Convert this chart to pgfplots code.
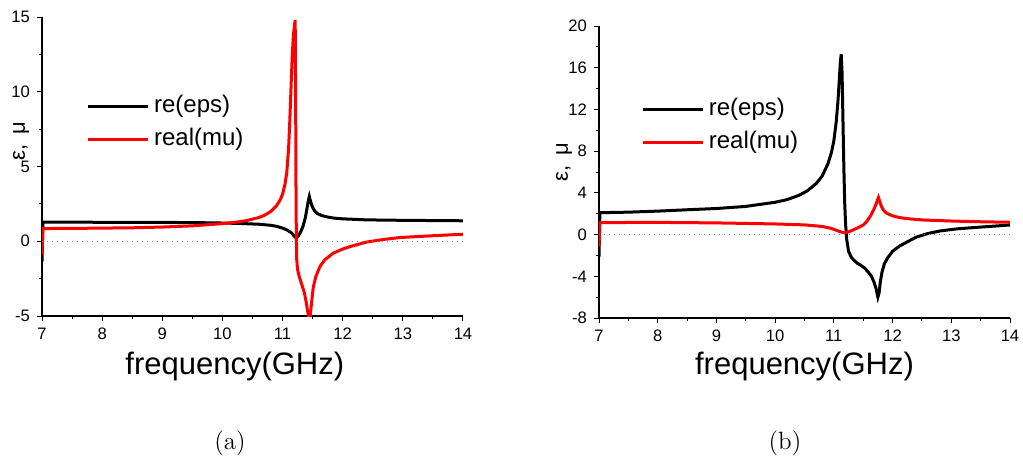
\documentclass[border=0pt]{standalone}
\usepackage{fontspec}
\usepackage{pgfplots}
\pgfplotsset{compat=1.18}
\newfontfamily\arial{Liberation Sans}

\pgfplotsset{
  myax/.style={
    scale only axis,
    axis x line*=bottom, axis y line*=left,
    tick align=outside,
    major tick length=2.5pt, minor tick length=1.5pt,
    minor x tick num=1, minor y tick num=1,
    every tick/.style={black, line width=0.5pt},
    axis line style={line width=0.6pt},
    tick label style={font=\arial\fontsize{8.3}{10}\selectfont},
    /pgf/number format/assume math mode=true,
    xmin=7, xmax=14, xtick={7,...,14},
    xlabel={frequency(GHz)},
    x label style={font=\arial\fontsize{15.5}{18}\selectfont, anchor=base},
    legend cell align=left,
    legend image code/.code={\draw[##1,line width=1.5pt] (0pt,0pt) -- (30pt,0pt);},
    legend style={draw=none, fill=none, font=\arial\fontsize{12}{14}\selectfont,
      inner sep=0pt, row sep=0pt,
      nodes={inner sep=2.25pt, text height=9pt, text depth=3pt}},
    clip=true,
  },
}

\begin{document}
\begin{tikzpicture}
\path[use as bounding box] (0pt,0pt) rectangle (511.5pt,-231pt);

% ---------- panel (a) ----------
\begin{axis}[myax,
  at={(21pt,-158pt)}, anchor=south west,
  width=210.5pt, height=149.5pt,
  ymin=-5, ymax=15, ytick={-5,0,5,10,15},
  x label style={at={(rel axis cs:0.458,0)}, yshift=-29pt},
  legend style={at={(rel axis cs:0.105,0.644)}, anchor=west},
]
\addplot[black, line width=1.5pt] coordinates {
(7.000,-1.36)(7.015,1.28)(8.0,1.27)(9.0,1.26)(9.5,1.25)(10.0,1.22)(10.3,1.19)
(10.6,1.14)(10.8,1.07)(10.9,1.0)(11.0,0.88)(11.08,0.74)(11.14,0.58)(11.18,0.42)
(11.21,0.27)(11.23,0.22)(11.26,0.35)(11.30,0.62)(11.34,1.0)(11.38,1.6)(11.41,2.3)
(11.43,2.75)(11.445,3.0)(11.46,2.75)(11.49,2.35)(11.53,2.05)(11.58,1.85)(11.65,1.72)
(11.75,1.62)(11.85,1.55)(12.0,1.5)(12.4,1.43)(13.0,1.4)(14.0,1.37)
};
\addlegendentry{re(eps)}
\addplot[red, line width=1.5pt] coordinates {
(7.000,-0.9)(7.015,0.85)(7.5,0.86)(8.0,0.88)(8.5,0.9)(9.0,0.95)(9.5,1.03)(10.0,1.18)
(10.2,1.26)(10.4,1.38)(10.6,1.58)(10.7,1.74)(10.8,1.98)(10.9,2.38)(10.96,2.76)(11.0,3.15)
(11.04,3.8)(11.07,4.6)(11.10,6.2)(11.12,8.0)(11.14,10.2)(11.16,12.3)(11.18,13.8)
(11.20,14.5)(11.21,14.8)(11.218,9)(11.225,2)(11.235,-1.2)(11.25,-1.9)(11.28,-2.4)
(11.32,-2.9)(11.36,-3.4)(11.39,-4.0)(11.41,-4.5)(11.43,-5.0)(11.445,-5.4)(11.46,-5.0)
(11.48,-4.2)(11.51,-3.1)(11.55,-2.4)(11.62,-1.7)(11.7,-1.25)(11.84,-0.8)(12.0,-0.52)
(12.12,-0.36)(12.4,-0.05)(12.7,0.13)(12.95,0.25)(13.5,0.37)(14.0,0.47)
};
\addlegendentry{real(mu)}
\addplot[gray, dotted, line width=0.5pt, forget plot] coordinates {(7,0)(14,0)};
\end{axis}

% ---------- panel (b) ----------
\begin{axis}[myax,
  at={(299.5pt,-159pt)}, anchor=south west,
  width=205.5pt, height=146pt,
  ymin=-8, ymax=20, ytick={-8,-4,0,4,8,12,16,20},
  x label style={at={(rel axis cs:0.5,0)}, yshift=-28pt},
  legend style={at={(rel axis cs:0.102,0.658)}, anchor=west},
]
\addplot[black, line width=1.5pt] coordinates {
(7.000,-2.1)(7.015,2.1)(7.5,2.15)(8.0,2.25)(8.5,2.38)(9.0,2.5)(9.5,2.7)(10.0,3.1)
(10.2,3.35)(10.4,3.75)(10.55,4.2)(10.7,4.9)(10.8,5.6)(10.9,6.8)(10.96,7.9)(11.0,9.0)
(11.04,10.8)(11.07,12.8)(11.09,14.6)(11.11,16.5)(11.125,17.3)(11.14,15.5)(11.155,11.0)
(11.17,6.5)(11.185,3.0)(11.2,1.0)(11.22,-0.5)(11.25,-1.6)(11.3,-2.2)(11.35,-2.5)
(11.4,-2.75)(11.46,-2.95)(11.52,-3.2)(11.58,-3.55)(11.64,-4.0)(11.68,-4.5)(11.72,-5.2)
(11.75,-6.0)(11.77,-5.6)(11.79,-4.6)(11.82,-3.6)(11.86,-2.8)(11.92,-2.2)(12.0,-1.6)
(12.12,-1.1)(12.25,-0.7)(12.4,-0.25)(12.6,0.1)(12.81,0.35)(13.1,0.55)(13.4,0.68)
(13.7,0.8)(14.0,0.92)
};
\addlegendentry{re(eps)}
\addplot[red, line width=1.5pt] coordinates {
(7.000,-1.15)(7.015,1.15)(8.0,1.17)(9.0,1.12)(10.0,1.02)(10.5,0.93)(10.8,0.78)
(10.95,0.6)(11.05,0.4)(11.12,0.25)(11.19,0.19)(11.26,0.28)(11.33,0.45)(11.42,0.68)
(11.5,0.92)(11.56,1.25)(11.62,1.75)(11.68,2.4)(11.72,2.95)(11.76,3.55)(11.78,3.2)
(11.81,2.7)(11.85,2.3)(11.9,2.04)(12.0,1.8)(12.12,1.63)(12.3,1.5)(12.52,1.4)
(13.0,1.3)(13.4,1.24)(14.0,1.18)
};
\addlegendentry{real(mu)}
\addplot[gray, dotted, line width=0.5pt, forget plot] coordinates {(7,0)(14,0)};
\end{axis}

% y-axis labels
\node[font=\arial\fontsize{11}{13}\selectfont, rotate=90, anchor=center] at (10.5pt,-70.5pt) {ε,\hspace{0.45em}μ};
\node[font=\arial\fontsize{11}{13}\selectfont, rotate=90, anchor=center] at (282pt,-81pt) {ε,\hspace{0.45em}μ};

% panel captions
\node[font=\fontsize{12.5}{15}\selectfont, anchor=base] at (115pt,-224.5pt) {(a)};
\node[font=\fontsize{12.5}{15}\selectfont, anchor=base] at (392.5pt,-224.5pt) {(b)};
\end{tikzpicture}
\end{document}
